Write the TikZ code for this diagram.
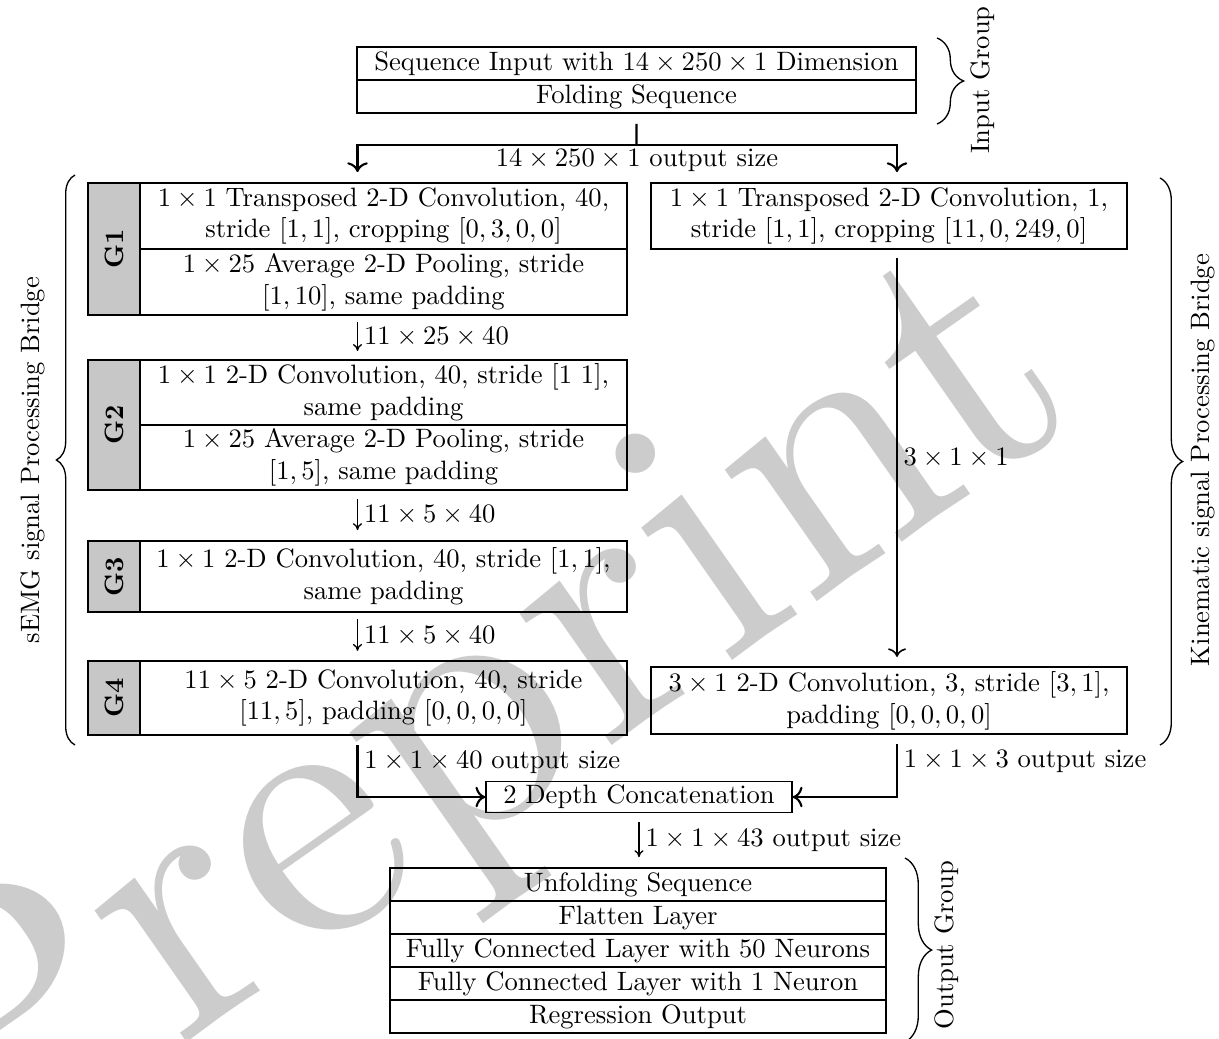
\documentclass[tikz,border=0pt]{standalone}
\usetikzlibrary{decorations.pathreplacing,calc,arrows.meta}
\begin{document}
\begin{tikzpicture}[x=0.376pt,y=-0.376pt,
  box/.style={draw, line width=0.5pt, inner sep=0pt, outer sep=0pt, align=center, anchor=north west},
  glab/.style={draw, line width=0.5pt, inner sep=0pt, outer sep=0pt, fill=black!22, font=\bfseries, rotate=90, anchor=center, minimum height=19.55pt},
  conn/.style={line width=0.8pt, -{To[scale=1.1]}},
  plain/.style={line width=0.8pt},
  sarr/.style={line width=0.5pt, -{To[length=2.6pt, width=3.4pt]}},
  brc/.style={decorate, decoration={brace, amplitude=#1}, line width=0.5pt},
  lbl/.style={right, inner sep=2.2pt},
]
\useasboundingbox (0,0) rectangle (1219,1038);

% watermark
\node[text=black!20, rotate=35, scale=14] (wm) at (477,729) {Preprint};

% input group
\node[box, minimum width=210.2pt, minimum height=12.4pt] (in1) at (357,47) {Sequence Input with $14\times250\times1$ Dimension};
\node[box, minimum width=210.2pt, minimum height=12.4pt] (in2) at (357,80) {Folding Sequence};

% G1
\node[glab, minimum width=49.6pt] (g1lab) at (114,249) {G1};
\node[box, minimum width=183.1pt, minimum height=24.8pt] (g1a) at (140,183) {$1\times1$ Transposed 2-D Convolution, 40,\\ stride $[1,1]$, cropping $[0,3,0,0]$};
\node[box, minimum width=183.1pt, minimum height=24.8pt] (g1b) at (140,249) {$1\times25$ Average 2-D Pooling, stride\\ $[1,10]$, same padding};
% G2
\node[glab, minimum width=48.9pt] (g2lab) at (114,425) {G2};
\node[box, minimum width=183.1pt, minimum height=24.4pt] (g2a) at (140,360) {$1\times1$ 2-D Convolution, 40, stride [1 1],\\ same padding};
\node[box, minimum width=183.1pt, minimum height=24.4pt] (g2b) at (140,425) {$1\times25$ Average 2-D Pooling, stride\\ $[1,5]$, same padding};
% G3
\node[glab, minimum width=26.7pt] (g3lab) at (114,576.5) {G3};
\node[box, minimum width=183.1pt, minimum height=26.7pt] (g3) at (140,541) {$1\times1$ 2-D Convolution, 40, stride $[1,1]$,\\ same padding};
% G4
\node[glab, minimum width=27.8pt] (g4lab) at (114,698) {G4};
\node[box, minimum width=183.1pt, minimum height=27.8pt] (g4) at (140,661) {$11\times5$ 2-D Convolution, 40, stride\\ $[11,5]$, padding $[0,0,0,0]$};

% kinematic
\node[box, minimum width=179pt, minimum height=24.8pt] (k1) at (651,183) {$1\times1$ Transposed 2-D Convolution, 1,\\ stride $[1,1]$, cropping $[11,0,249,0]$};
\node[box, minimum width=179pt, minimum height=25.2pt] (k2) at (651,667) {$3\times1$ 2-D Convolution, 3, stride $[3,1]$,\\ padding $[0,0,0,0]$};

% concatenation
\node[draw, line width=0.5pt, inner sep=0pt, minimum width=115.1pt, minimum height=11.7pt] (cc) at (639,797) {2 Depth Concatenation};

% output group
\node[box, minimum width=186.5pt, minimum height=12.4pt] (o1) at (390,868) {Unfolding Sequence};
\node[box, minimum width=186.5pt, minimum height=12.4pt] (o2) at (390,901) {Flatten Layer};
\node[box, minimum width=186.5pt, minimum height=12.4pt] (o3) at (390,934) {Fully Connected Layer with 50 Neurons};
\node[box, minimum width=186.5pt, minimum height=12.4pt] (o4) at (390,967) {Fully Connected Layer with 1 Neuron};
\node[box, minimum width=186.5pt, minimum height=12.4pt] (o5) at (390,1000) {Regression Output};

% connectors
\coordinate (gc) at (357.5,0);
\coordinate (kc) at (897,0);
\coordinate (sp) at (636.5,145);
\draw[plain] (in2.south) ++(0,11) -- (sp);
\draw[conn,shorten >=4.1pt] (sp) -| (gc |- g1a.north);
\draw[conn,shorten >=4.1pt] (sp) -| (kc |- k1.north);
\node (os) at (637,160) {$14\times250\times1$ output size};

\draw[sarr, shorten <=2.6pt, shorten >=3.4pt] (gc |- g1b.south) -- node[lbl] (l1) {$11\times25\times40$} (gc |- g2a.north);
\draw[sarr, shorten <=3.4pt, shorten >=4.1pt] (gc |- g2b.south) -- node[lbl] (l2) {$11\times5\times40$} (gc |- g3.north);
\draw[sarr, shorten <=2.6pt, shorten >=3.8pt] (gc |- g3.south) -- node[lbl] (l3) {$11\times5\times40$} (gc |- g4.north);

\draw[conn, line width=0.6pt, shorten <=3.4pt, shorten >=3.8pt] (kc |- k1.south) -- node[lbl] (l4) {$3\times1\times1$} (kc |- k2.north);

\draw[conn,shorten <=3.8pt] (gc |- g4.south) |- node[lbl,pos=0.22] (l5) {$1\times1\times40$ output size} (cc.west);
\draw[conn,shorten <=3.8pt] (kc |- k2.south) |- node[lbl,pos=0.22] (l6) {$1\times1\times3$ output size} (cc.east);

\draw[sarr, shorten <=3.4pt, shorten >=4.1pt] (cc.south) -- node[lbl] (l7) {$1\times1\times43$ output size} (cc.south |- o1.north);

% braces
\draw[brc=10pt] (937,38) -- (937,124);
\node[rotate=90] (ig) at (983,80) {Input Group};
\draw[brc=7pt] (75,745) -- (75,175);
\node[rotate=90] (sg) at (33,460) {sEMG signal Processing Bridge};
\draw[brc=8.5pt] (1160,178) -- (1160,745);
\node[rotate=90] (kg) at (1203,460) {Kinematic signal Processing Bridge};
\draw[brc=10pt] (905,858) -- (905,1042);
\node[rotate=90] (og) at (947,945) {Output Group};
\end{tikzpicture}
\end{document}
